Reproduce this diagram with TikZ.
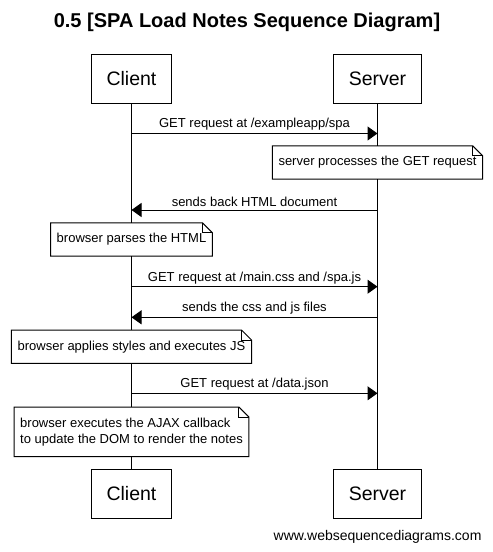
\documentclass[tikz,border=0pt]{standalone}
\usepackage{fontspec}
\setmainfont{Liberation Sans}
\usetikzlibrary{arrows.meta,positioning}
\tikzset{
    every node/.style={font=\fontsize{13}{16}\selectfont},
    actor/.style={draw, line width=1pt, minimum height=49pt, inner xsep=15pt, font=\fontsize{19.5}{24}\selectfont},
    msg/.style={line width=1pt, -{Triangle[length=10pt,width=14pt]}},
    msglabel/.style={above, inner sep=2.5pt},
    notebox/.style={fill=white, inner xsep=6pt, inner ysep=0pt, minimum height=33pt, align=left}
}
\newcommand{\drawnote}[1]{%
    \draw[line width=1pt] (#1.south west) -- (#1.north west) -- ([xshift=-10pt]#1.north east)
        -- ([yshift=-10pt]#1.north east) -- (#1.south east) -- cycle;
    \draw[line width=1pt] ([xshift=-10pt]#1.north east) |- ([yshift=-10pt]#1.north east);
}
\begin{document}
\begin{tikzpicture}[x=1pt, y=-1pt]
    \useasboundingbox (0,0) rectangle (493,552);

    % Title
    \node[font=\fontsize{20}{24}\selectfont\bfseries] (title) at (247,22) {0.5 [SPA Load Notes Sequence Diagram]};

    % Participants
    \node[actor] (clientTop) at (131.5,78.5) {Client};
    \node[actor] (serverTop) at (377.5,78.5) {Server};
    \node[actor] (clientBot) at (131.5,494) {Client};
    \node[actor] (serverBot) at (377.5,494) {Server};

    % Lifelines
    \draw[line width=1pt] (clientTop) -- (clientBot);
    \draw[line width=1pt] (serverTop) -- (serverBot);

    % Message rows on the lifelines
    \foreach \y/\i in {133.5/1, 210/2, 286.7/3, 317.3/4, 393.3/5} {
        \coordinate (c\i) at (clientTop.south |- 0,\y);
        \coordinate (s\i) at (serverTop.south |- 0,\y);
    }

    % Messages
    \draw[msg] (c1) -- node[msglabel] {GET request at /exampleapp/spa} (s1);
    \draw[msg] (s2) -- node[msglabel] {sends back HTML document} (c2);
    \draw[msg] (c3) -- node[msglabel] {GET request at /main.css and /spa.js} (s3);
    \draw[msg] (s4) -- node[msglabel] {sends the css and js files} (c4);
    \draw[msg] (c5) -- node[msglabel] {GET request at /data.json} (s5);

    % Notes
    \node[notebox] (note1) at (377.5,162.5) {server processes the GET request};
    \drawnote{note1}
    \node[notebox] (note2) at (131.5,239.5) {browser parses the HTML};
    \drawnote{note2}
    \node[notebox] (note3) at (131.5,346.7) {browser applies styles and executes JS};
    \drawnote{note3}
    \node[notebox, minimum height=49pt] (note4) at (131.5,431.8) {browser executes the AJAX callback\\to update the DOM to render the notes};
    \drawnote{note4}

    % Footer
    \node[anchor=east, font=\fontsize{14}{17}\selectfont] (footer) at (485,537) {www.websequencediagrams.com};
\end{tikzpicture}
\end{document}
